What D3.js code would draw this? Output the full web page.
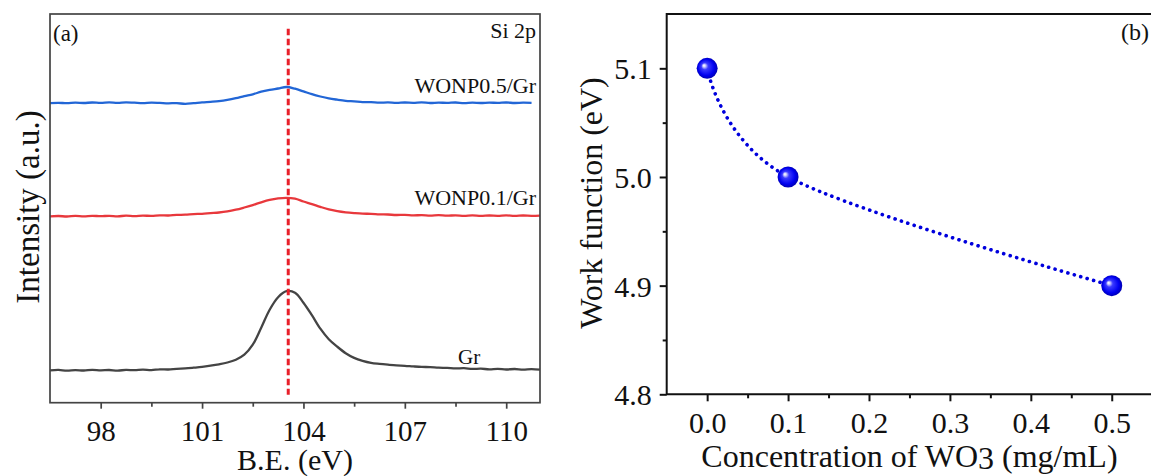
<!DOCTYPE html>
<html><head><meta charset="utf-8">
<script src="https://cdn.jsdelivr.net/npm/d3@7"></script>
<style>
body{margin:0;background:#fff}
svg{display:block}
text{font-family:"Liberation Serif","Times New Roman",serif;fill:#111}
</style>
</head><body>
<svg id="c" width="1151" height="476"></svg>
<script>
// ---------- Panel (a): Si 2p XPS spectra ----------
const energy = [96.5,96.75,97,97.25,97.5,97.75,98,98.25,98.5,98.75,99,99.25,99.5,99.75,100,100.25,100.5,100.75,101,101.25,101.5,101.75,102,102.25,102.5,102.75,103,103.25,103.5,103.75,104,104.25,104.5,104.75,105,105.25,105.5,105.75,106,106.25,106.5,106.75,107,107.25,107.5,107.75,108,108.25,108.5,108.75,109,109.25,109.5,109.75,110,110.25,110.5,110.75,111];
const grIntensity = [32.3,32.8,32.0,32.6,32.2,32.9,32.4,32.7,32.1,32.8,32.5,33.0,32.6,33.4,33.2,33.9,34.3,35.0,35.8,37.0,38.4,40.2,43.0,48.0,58.0,75.0,93.0,105.5,111.5,110.0,100.0,87.5,74.0,63.5,56.0,49.5,44.8,41.8,39.8,38.8,38.0,37.3,36.9,36.3,35.8,35.6,35.0,34.8,34.3,34.5,33.8,34.0,33.4,33.8,33.2,33.7,33.1,33.6,33.0];
const np01Intensity = [186.3,186.7,186.2,186.8,186.4,186.9,186.5,186.9,186.4,187.0,186.6,187.1,186.8,187.4,187.2,187.8,188.0,188.6,188.9,189.6,190.2,191.3,193.0,195.2,197.6,200.4,202.8,204.3,204.9,204.0,201.2,198.6,195.8,193.3,191.6,190.4,189.6,189.0,188.9,188.4,188.2,187.7,187.9,187.3,187.6,187.1,187.5,187.0,187.4,186.9,187.3,186.8,187.2,186.9,187.3,186.8,187.2,186.9,187.1];
const np05Intensity = [299.6,299.9,299.5,300.0,299.7,300.2,299.8,300.3,299.9,300.4,300.0,299.6,300.1,299.8,299.4,299.6,298.8,299.5,300.3,300.9,301.6,302.8,304.5,306.6,308.4,311.0,312.8,314.2,315.7,314.0,311.3,308.5,306.2,304.3,303.0,301.9,301.3,300.6,300.5,300.0,300.3,299.8,300.2,299.9,300.3,299.7,300.1,299.8,300.2,299.6,300.0,299.7,300.1,299.8,300.2,299.7,300.0,299.8];
const aTicks = [98, 101, 104, 107, 110];
const aMinorTicks = [99.5, 102.5, 105.5, 108.5];
const refEnergy = [103.55];
const refSpan = [8, 374];

// ---------- Panel (b): work function ----------
const conc = [0, 0.1, 0.5];
const workFn = [5.1, 5.0, 4.9];
const bXTicks = [0, 0.1, 0.2, 0.3, 0.4, 0.5];
const bXMinor = [0.05, 0.15, 0.25, 0.35, 0.45, 0.55];
const bYTicks = [4.8, 4.9, 5.0, 5.1];
const bYMinor = [4.85, 4.95, 5.05];

const svg = d3.select("#c");

// gradient for spheres
const defs = svg.append("defs");
const g = defs.append("radialGradient").attr("id","ball")
  .attr("cx","50%").attr("cy","50%").attr("r","55%").attr("fx","34%").attr("fy","36%");
[[0,"#ffffff"],[0.1,"#d8d8ff"],[0.3,"#3a3aff"],[0.7,"#0000f0"],[1,"#0000a0"]]
  .forEach(([o,c])=>g.append("stop").attr("offset",o).attr("stop-color",c));

// ===== Panel (a) =====
const aL=50, aR=540, aT=14, aB=402.7;
const xA = d3.scaleLinear().domain([96.5,111]).range([aL,aR]);
const yA = d3.scaleLinear().domain([0,388.7]).range([aB,aT]);
const pa = svg.append("g");

const lineA = d3.line().curve(d3.curveCatmullRom.alpha(0.5)).x(d=>xA(d[0])).y(d=>yA(d[1]));
const series = [
  {v: grIntensity, c: "#444444"},
  {v: np01Intensity, c: "#e8383c"},
  {v: np05Intensity, c: "#2266d6"}
];
series.forEach(s=>{
  pa.append("path").datum(d3.zip(energy.slice(0,s.v.length), s.v))
    .attr("d",lineA).attr("fill","none").attr("stroke",s.c)
    .attr("stroke-width",2.3).attr("stroke-linejoin","round");
});

// reference dashed line
pa.selectAll(".ref").data(refEnergy).join("line")
  .attr("x1",d=>xA(d)).attr("x2",d=>xA(d))
  .attr("y1",yA(refSpan[1])).attr("y2",yA(refSpan[0]))
  .attr("stroke","#e8202a").attr("stroke-width",3).attr("stroke-dasharray","6.5,3.5");

// frame
pa.append("rect").attr("x",aL).attr("y",aT).attr("width",aR-aL).attr("height",aB-aT)
  .attr("fill","none").attr("stroke","#444").attr("stroke-width",1.7);

// x axis
const axA = pa.append("g").attr("transform",`translate(0,${aB})`)
  .call(d3.axisBottom(xA).tickValues(aTicks).tickSize(6).tickSizeOuter(0).tickFormat(d3.format("d")));
axA.select(".domain").remove();
axA.selectAll(".tick line").attr("stroke","#444").attr("stroke-width",1.7);
axA.selectAll(".tick text").attr("y",38.5).attr("dy",null)
  .style("font-family",'"Liberation Serif",serif').style("font-size","29px").attr("fill","#111");
pa.append("g").attr("transform",`translate(0,${aB})`)
  .call(d3.axisBottom(xA).tickValues(aMinorTicks).tickSize(4).tickFormat(""))
  .call(s=>{s.select(".domain").remove(); s.selectAll("line").attr("stroke","#444").attr("stroke-width",1.7);});

pa.append("text").attr("x",(aL+aR)/2).attr("y",470).attr("text-anchor","middle")
  .style("font-size","30px").text("B.E. (eV)");
pa.append("text").attr("transform",`translate(38.5,207) rotate(-90)`).attr("text-anchor","middle")
  .style("font-size","33px").text("Intensity (a.u.)");

pa.append("text").attr("x",53).attr("y",40.5).style("font-size","23px").text("(a)");
pa.append("text").attr("x",536).attr("y",37.5).attr("text-anchor","end").style("font-size","22px").text("Si 2p");
pa.append("text").attr("x",536).attr("y",93.3).attr("text-anchor","end").style("font-size","22px").text("WONP0.5/Gr");
pa.append("text").attr("x",536).attr("y",205).attr("text-anchor","end").style("font-size","22px").text("WONP0.1/Gr");
pa.append("text").attr("x",458).attr("y",364).style("font-size","21px").text("Gr");

// ===== Panel (b) =====
const bL=666.7, bR=1152.2, bT=14, bB=394.3;
const xB = d3.scaleLinear().domain([-0.05,0.55]).range([bL,bR]);
const yB = d3.scaleLinear().domain([4.8,5.15]).range([bB,bT]);
const pb = svg.append("g");

const ptsB = d3.zip(conc, workFn);
pb.append("path").datum(ptsB)
  .attr("d", d3.line().curve(d3.curveCardinal.tension(0)).x(d=>xB(d[0])).y(d=>yB(d[1])))
  .attr("fill","none").attr("stroke","#0000dd").attr("stroke-width",3.6)
  .attr("stroke-linecap","round").attr("stroke-dasharray","0.1,6.6");

pb.selectAll("circle.ball").data(ptsB).join("circle").attr("class","ball")
  .attr("cx",d=>xB(d[0])).attr("cy",d=>yB(d[1])).attr("r",10.5).attr("fill","url(#ball)");

// frame lines
pb.append("path").attr("d",`M${bL},${bB}H${bR}V${bT}H${bL}Z`)
  .attr("fill","none").attr("stroke","#111").attr("stroke-width",2);

const axBx = pb.append("g").attr("transform",`translate(0,${bB})`)
  .call(d3.axisBottom(xB).tickValues(bXTicks).tickSize(7).tickSizeOuter(0).tickFormat(d3.format(".1f")));
axBx.select(".domain").remove();
axBx.selectAll(".tick line").attr("stroke","#111").attr("stroke-width",2);
axBx.selectAll(".tick text").attr("y",39).attr("dy",null)
  .style("font-family",'"Liberation Serif",serif').style("font-size","30px").attr("fill","#111");
pb.append("g").attr("transform",`translate(0,${bB})`)
  .call(d3.axisBottom(xB).tickValues(bXMinor).tickSize(4).tickFormat(""))
  .call(s=>{s.select(".domain").remove(); s.selectAll("line").attr("stroke","#111").attr("stroke-width",2);});

const axBy = pb.append("g").attr("transform",`translate(${bL},0)`)
  .call(d3.axisLeft(yB).tickValues(bYTicks).tickSize(7).tickSizeOuter(0).tickFormat(d3.format(".1f")));
axBy.select(".domain").remove();
axBy.selectAll(".tick line").attr("stroke","#111").attr("stroke-width",2);
axBy.selectAll(".tick text").attr("x",-15).attr("dy","0.35em")
  .style("font-family",'"Liberation Serif",serif').style("font-size","30px").attr("fill","#111");
pb.append("g").attr("transform",`translate(${bL},0)`)
  .call(d3.axisLeft(yB).tickValues(bYMinor).tickSize(4).tickFormat(""))
  .call(s=>{s.select(".domain").remove(); s.selectAll("line").attr("stroke","#111").attr("stroke-width",2);});

const tB = pb.append("text").attr("x",(bL+bR)/2).attr("y",467).attr("text-anchor","middle")
  .style("font-size","32px");
tB.append("tspan").text("Concentration of WO");
tB.append("tspan").attr("dy",2).text("3");
tB.append("tspan").attr("dy",-2).text(" (mg/mL)");
pb.append("text").attr("transform",`translate(601.7,203) rotate(-90)`).attr("text-anchor","middle")
  .style("font-size","32px").text("Work function (eV)");
pb.append("text").attr("x",1149).attr("y",40).attr("text-anchor","end").style("font-size","24px").text("(b)");
</script>
</body></html>
